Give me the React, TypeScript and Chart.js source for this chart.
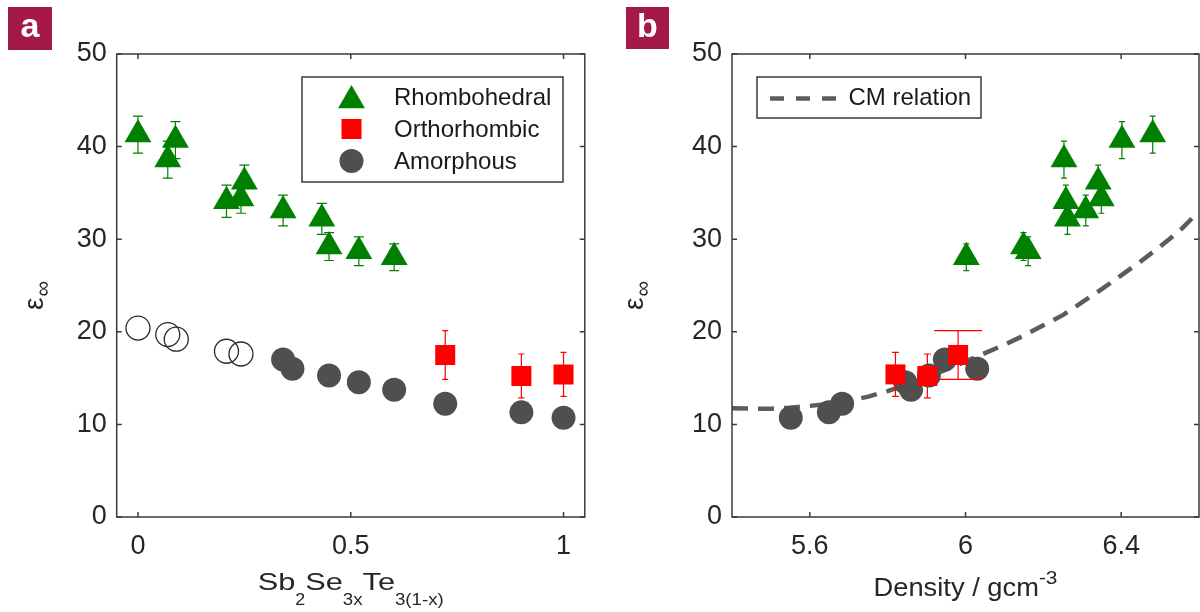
import React, { useEffect, useRef } from 'react';
import { Chart, registerables } from 'chart.js';

Chart.register(...registerables);

// ---------------- data ----------------
const Y_TICKS = [0, 10, 20, 30, 40, 50];
const X_TICKS_A = [0, 0.5, 1];
const X_TICKS_B = [5.6, 6, 6.4];

// Rhombohedral (green triangles)
const RHOMBO_X = [0, 0.07, 0.088, 0.208, 0.242, 0.25, 0.341, 0.432, 0.449, 0.519, 0.602];
const RHOMBO_EPS = [41.3, 38.6, 40.7, 34.1, 34.4, 36.2, 33.1, 32.2, 29.2, 28.7, 28.05];
const RHOMBO_ERR = [2.0, 2.0, 2.0, 1.75, 1.6, 1.8, 1.67, 1.67, 1.5, 1.55, 1.45];
const RHOMBO_DENSITY = [6.481, 6.253, 6.402, 6.258, 6.349, 6.341, 6.309, 6.262, 6.149, 6.161, 6.002];

// Orthorhombic (red squares)
const ORTHO_X = [0.722, 0.901, 1.0];
const ORTHO_EPS = [17.5, 15.23, 15.4];
const ORTHO_ERR = [2.63, 2.37, 2.37];
const ORTHO_DENSITY = [5.981, 5.902, 5.82];

// Amorphous (filled grey circles)
const AMOR_X = [0.341, 0.363, 0.449, 0.519, 0.602, 0.722, 0.901, 1.0];
const AMOR_EPS = [17.0, 16.0, 15.27, 14.55, 13.75, 12.24, 11.3, 10.73];
const AMOR_DENSITY = [5.947, 6.03, 5.906, 5.845, 5.86, 5.683, 5.649, 5.551];

// Amorphous (open circles, panel a only)
const AMOR_OPEN_X = [0, 0.07, 0.09, 0.208, 0.242];
const AMOR_OPEN_EPS = [20.4, 19.7, 19.2, 17.9, 17.6];

// CM relation (dashed curve, panel b)
const CM_DENSITY = [5.4, 5.45, 5.5, 5.55, 5.6, 5.65, 5.7, 5.75, 5.8, 5.85, 5.9, 5.95, 6.0, 6.05, 6.1, 6.15, 6.2, 6.25, 6.3, 6.35, 6.4, 6.45, 6.5, 6.55, 6.6];
const CM_EPS = [11.75, 11.7, 11.7, 11.8, 12.0, 12.2, 12.55, 13.0, 13.6, 14.3, 15.1, 15.9, 16.8, 17.7, 18.6, 19.6, 20.7, 21.8, 23.2, 24.6, 26.1, 27.6, 29.2, 30.9, 33.0];

// ---------------- styles ----------------
const FONT = '"Liberation Sans", Arial, Helvetica, sans-serif';
const TEXT = '#262626';
const AXIS = '#3a3a3a';
const GREEN = '#008000';
const RED = '#ff0000';
const GRAY = '#4f4f4f';
const CM_GRAY = '#5c5c5c';
const BADGE = '#a5184a';

const CAP_A_RHOMBO = 5;
const CAP_A_ORTHO = 3;
const CAP_B_RHOMBO = 3;
const CAP_B_ORTHO = [24, 3.5, 3.5];

const pts = (xs: number[], ys: number[]) => xs.map((x, i) => ({ x, y: ys[i] }));

type Seg = { text: string; size: number; dy: number; sx: number };

function drawSegments(ctx: CanvasRenderingContext2D, segs: Seg[], cx: number, baseline: number) {
  let total = 0;
  const widths = segs.map((s) => {
    ctx.font = `${s.size}px ${FONT}`;
    const w = ctx.measureText(s.text).width * s.sx;
    total += w;
    return w;
  });
  let x = cx - total / 2;
  segs.forEach((s, i) => {
    ctx.save();
    ctx.font = `${s.size}px ${FONT}`;
    ctx.fillStyle = TEXT;
    ctx.textAlign = 'left';
    ctx.textBaseline = 'alphabetic';
    ctx.translate(x, baseline + s.dy);
    ctx.scale(s.sx, 1);
    ctx.fillText(s.text, 0, 0);
    ctx.restore();
    x += widths[i];
  });
}

function drawEps(ctx: CanvasRenderingContext2D, xRight: number, yStart: number) {
  ctx.save();
  ctx.translate(xRight, yStart);
  ctx.rotate(-Math.PI / 2);
  ctx.fillStyle = TEXT;
  ctx.textAlign = 'left';
  ctx.textBaseline = 'alphabetic';
  ctx.font = `28px ${FONT}`;
  ctx.fillText('ε', 0, 0);
  const w = ctx.measureText('ε').width;
  ctx.font = `22px ${FONT}`;
  ctx.fillText('∞', w + 1, 7);
  ctx.restore();
}

function drawBadge(ctx: CanvasRenderingContext2D, x: number, y: number, w: number, h: number, letter: string) {
  ctx.save();
  ctx.fillStyle = BADGE;
  ctx.fillRect(x, y, w, h);
  ctx.fillStyle = '#ffffff';
  ctx.font = `bold 34px ${FONT}`;
  ctx.textAlign = 'center';
  ctx.textBaseline = 'alphabetic';
  ctx.fillText(letter, x + w / 2, y + 30);
  ctx.restore();
}

const framePlugin = {
  id: 'frame',
  afterDatasetsDraw(chart: any) {
    const { ctx, chartArea } = chart;
    const { left, right, top, bottom } = chartArea;
    const xs = chart.scales.x;
    const ys = chart.scales.y;
    const TL = 5;
    ctx.save();
    ctx.strokeStyle = AXIS;
    ctx.lineWidth = 1.5;
    ctx.beginPath();
    xs.ticks.forEach((t: any) => {
      const px = xs.getPixelForValue(t.value);
      ctx.moveTo(px, bottom);
      ctx.lineTo(px, bottom - TL);
      ctx.moveTo(px, top);
      ctx.lineTo(px, top + TL);
    });
    ys.ticks.forEach((t: any) => {
      const py = ys.getPixelForValue(t.value);
      ctx.moveTo(left, py);
      ctx.lineTo(left + TL, py);
      ctx.moveTo(right, py);
      ctx.lineTo(right - TL, py);
    });
    ctx.stroke();
    ctx.strokeRect(left, top, right - left, bottom - top);
    ctx.restore();
  },
};

const errorBarPlugin = {
  id: 'errorBars',
  afterDatasetDraw(chart: any, args: any) {
    const ds = chart.data.datasets[args.index];
    if (!ds.errY) return;
    const { ctx } = chart;
    const xs = chart.scales.x;
    const ys = chart.scales.y;
    ctx.save();
    ctx.strokeStyle = ds.errColor;
    ctx.lineWidth = 1.2;
    ctx.beginPath();
    ds.data.forEach((p: any, i: number) => {
      const px = xs.getPixelForValue(p.x);
      const yt = ys.getPixelForValue(p.y + ds.errY[i]);
      const yb = ys.getPixelForValue(p.y - ds.errY[i]);
      const cap = Array.isArray(ds.errCap) ? ds.errCap[i] : ds.errCap;
      ctx.moveTo(px, yt);
      ctx.lineTo(px, yb);
      ctx.moveTo(px - cap, yt);
      ctx.lineTo(px + cap, yt);
      ctx.moveTo(px - cap, yb);
      ctx.lineTo(px + cap, yb);
    });
    ctx.stroke();
    ctx.restore();
  },
};

function triangle(ctx: CanvasRenderingContext2D, cx: number, topY: number, r: number) {
  ctx.beginPath();
  ctx.moveTo(cx, topY);
  ctx.lineTo(cx + Math.sin((2 * Math.PI) / 3) * r, topY + 1.5 * r);
  ctx.lineTo(cx - Math.sin((2 * Math.PI) / 3) * r, topY + 1.5 * r);
  ctx.closePath();
  ctx.fill();
}

const decorA = {
  id: 'decorA',
  afterDraw(chart: any) {
    const { ctx, chartArea } = chart;
    drawBadge(ctx, 8, 7, 44, 43, 'a');
    drawEps(ctx, 43, 310);
    drawSegments(
      ctx,
      [
        { text: 'Sb', size: 24, dy: 0, sx: 1.28 },
        { text: '2', size: 17, dy: 15, sx: 1.05 },
        { text: 'Se', size: 24, dy: 0, sx: 1.28 },
        { text: '3x', size: 17, dy: 15, sx: 1.1 },
        { text: 'Te', size: 24, dy: 0, sx: 1.28 },
        { text: '3(1-x)', size: 17, dy: 15, sx: 1.1 },
      ],
      (chartArea.left + chartArea.right) / 2,
      590
    );
    // legend
    ctx.save();
    ctx.fillStyle = '#ffffff';
    ctx.fillRect(302, 77, 261, 105);
    ctx.strokeStyle = AXIS;
    ctx.lineWidth = 1.5;
    ctx.strokeRect(302, 77, 261, 105);
    const mx = 351.5;
    ctx.fillStyle = GREEN;
    triangle(ctx, mx, 85, 15.5);
    ctx.fillStyle = RED;
    ctx.fillRect(mx - 10, 119, 20, 20);
    ctx.fillStyle = GRAY;
    ctx.beginPath();
    ctx.arc(mx, 161, 12, 0, Math.PI * 2);
    ctx.fill();
    ctx.fillStyle = '#1a1a1a';
    ctx.font = `24px ${FONT}`;
    ctx.textAlign = 'left';
    ctx.textBaseline = 'middle';
    const ds = chart.data.datasets;
    ctx.fillText(ds[0].label, 394, 98);
    ctx.fillText(ds[1].label, 394, 130);
    ctx.fillText(ds[2].label, 394, 162);
    ctx.restore();
  },
};

const decorB = {
  id: 'decorB',
  afterDraw(chart: any) {
    const { ctx, chartArea } = chart;
    drawBadge(ctx, 26, 7, 43, 42, 'b');
    drawEps(ctx, 43, 310);
    drawSegments(
      ctx,
      [
        { text: 'Density / gcm', size: 26, dy: 0, sx: 1.05 },
        { text: '-3', size: 19, dy: -12, sx: 1.1 },
      ],
      (chartArea.left + chartArea.right) / 2,
      596
    );
    const cm = chart.data.datasets.find((d: any) => d.isCM);
    ctx.save();
    ctx.fillStyle = '#ffffff';
    ctx.fillRect(157, 77, 224, 41);
    ctx.strokeStyle = AXIS;
    ctx.lineWidth = 1.5;
    ctx.strokeRect(157, 77, 224, 41);
    ctx.strokeStyle = CM_GRAY;
    ctx.lineWidth = 4.5;
    ctx.setLineDash([14, 12]);
    ctx.beginPath();
    ctx.moveTo(170, 98.5);
    ctx.lineTo(241, 98.5);
    ctx.stroke();
    ctx.setLineDash([]);
    ctx.fillStyle = '#1a1a1a';
    ctx.font = `24px ${FONT}`;
    ctx.textAlign = 'left';
    ctx.textBaseline = 'middle';
    ctx.fillText(cm.label, 248.5, 98);
    ctx.restore();
  },
};

function baseOptions(xMin: number, xMax: number, xTicks: number[], yWidth: number, padRight: number) {
  return {
    animation: false,
    responsive: false,
    maintainAspectRatio: false,
    events: [],
    layout: { autoPadding: false, padding: { top: 54, right: padRight, bottom: 0, left: 0 } },
    plugins: { legend: { display: false }, tooltip: { enabled: false } },
    scales: {
      x: {
        type: 'linear',
        min: xMin,
        max: xMax,
        afterBuildTicks: (s: any) => {
          s.ticks = xTicks.map((v) => ({ value: v }));
        },
        afterFit: (s: any) => {
          s.height = 95;
          s.paddingLeft = 0;
          s.paddingRight = 0;
        },
        grid: { display: false, drawTicks: false },
        border: { display: false },
        ticks: {
          padding: 13,
          color: TEXT,
          font: { family: FONT, size: 27 },
          maxRotation: 0,
          autoSkip: false,
          callback: (v: any) => String(v),
        },
      },
      y: {
        type: 'linear',
        min: 0,
        max: 50,
        afterBuildTicks: (s: any) => {
          s.ticks = Y_TICKS.map((v) => ({ value: v }));
        },
        afterFit: (s: any) => {
          s.width = yWidth;
          s.paddingTop = 0;
          s.paddingBottom = 0;
        },
        grid: { display: false, drawTicks: false },
        border: { display: false },
        ticks: {
          padding: 10,
          color: TEXT,
          font: { family: FONT, size: 27 },
          autoSkip: false,
          callback: (v: any) => String(v),
        },
      },
    },
  };
}

function configA(): any {
  return {
    type: 'scatter',
    data: {
      datasets: [
        {
          label: 'Rhombohedral',
          data: pts(RHOMBO_X, RHOMBO_EPS),
          pointStyle: 'triangle',
          pointRadius: 15.5,
          pointBackgroundColor: GREEN,
          pointBorderWidth: 0,
          order: 1,
          errY: RHOMBO_ERR,
          errCap: CAP_A_RHOMBO,
          errColor: GREEN,
        },
        {
          label: 'Orthorhombic',
          data: pts(ORTHO_X, ORTHO_EPS),
          pointStyle: 'rect',
          pointRadius: 14.14,
          pointBackgroundColor: RED,
          pointBorderWidth: 0,
          order: 2,
          errY: ORTHO_ERR,
          errCap: CAP_A_ORTHO,
          errColor: RED,
        },
        {
          label: 'Amorphous',
          data: pts(AMOR_X, AMOR_EPS),
          pointStyle: 'circle',
          pointRadius: 12,
          pointBackgroundColor: GRAY,
          pointBorderWidth: 0,
          order: 3,
        },
        {
          label: 'Amorphous (open)',
          data: pts(AMOR_OPEN_X, AMOR_OPEN_EPS),
          pointStyle: 'circle',
          pointRadius: 12,
          pointBackgroundColor: 'rgba(255,255,255,0)',
          pointBorderColor: '#2a2a2a',
          pointBorderWidth: 1.3,
          order: 4,
        },
      ],
    },
    options: baseOptions(-0.05, 1.05, X_TICKS_A, 116.7, 15.2),
    plugins: [errorBarPlugin, framePlugin, decorA],
  };
}

function configB(): any {
  return {
    type: 'scatter',
    data: {
      datasets: [
        {
          label: 'Rhombohedral',
          data: pts(RHOMBO_DENSITY, RHOMBO_EPS),
          pointStyle: 'triangle',
          pointRadius: 15.5,
          pointBackgroundColor: GREEN,
          pointBorderWidth: 0,
          order: 1,
          errY: RHOMBO_ERR,
          errCap: CAP_B_RHOMBO,
          errColor: GREEN,
        },
        {
          label: 'Orthorhombic',
          data: pts(ORTHO_DENSITY, ORTHO_EPS),
          pointStyle: 'rect',
          pointRadius: 14.14,
          pointBackgroundColor: RED,
          pointBorderWidth: 0,
          order: 2,
          errY: ORTHO_ERR,
          errCap: CAP_B_ORTHO,
          errColor: RED,
        },
        {
          label: 'Amorphous',
          data: pts(AMOR_DENSITY, AMOR_EPS),
          pointStyle: 'circle',
          pointRadius: 12,
          pointBackgroundColor: GRAY,
          pointBorderWidth: 0,
          order: 3,
        },
        {
          label: 'CM relation',
          isCM: true,
          data: pts(CM_DENSITY, CM_EPS),
          showLine: true,
          pointRadius: 0,
          borderColor: CM_GRAY,
          borderWidth: 4.5,
          borderDash: [16, 10],
          tension: 0,
          fill: false,
          order: 5,
        },
      ],
    },
    options: baseOptions(5.4, 6.6, X_TICKS_B, 132, 1),
    plugins: [errorBarPlugin, framePlugin, decorB],
  };
}

export default function App() {
  const refA = useRef<HTMLCanvasElement>(null);
  const refB = useRef<HTMLCanvasElement>(null);
  useEffect(() => {
    const a = new Chart(refA.current as HTMLCanvasElement, configA());
    const b = new Chart(refB.current as HTMLCanvasElement, configB());
    return () => {
      a.destroy();
      b.destroy();
    };
  }, []);
  return (
    <div style={{ position: 'absolute', left: 0, top: 0, width: 1200, height: 612, background: '#ffffff' }}>
      <canvas
        ref={refA}
        width={600}
        height={612}
        style={{ position: 'absolute', left: 0, top: 0, width: 600, height: 612, display: 'block' }}
      />
      <canvas
        ref={refB}
        width={600}
        height={612}
        style={{ position: 'absolute', left: 600, top: 0, width: 600, height: 612, display: 'block' }}
      />
    </div>
  );
}
